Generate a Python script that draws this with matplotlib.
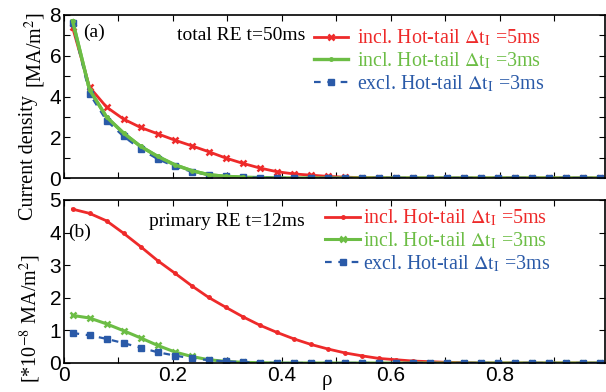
import numpy as np
import matplotlib
matplotlib.use("Agg")
import matplotlib.pyplot as plt
from matplotlib.ticker import MultipleLocator

rho = (np.arange(32) + 0.5) / 32

# panel (a): total RE current density at t=50ms [MA/m^2]
top_red = [7.40, 4.46, 3.48, 2.89, 2.48, 2.17, 1.86, 1.58, 1.29, 0.98, 0.72, 0.49,
           0.31, 0.20, 0.14, 0.08, 0.04, 0.02, 0.01] + [0.0] * 13
top_green = [7.72, 4.33, 2.99, 2.20, 1.55, 1.06, 0.65, 0.36, 0.16, 0.08, 0.04, 0.02,
             0.01] + [0.0] * 19
top_blue = [7.62, 4.13, 2.82, 2.04, 1.42, 0.93, 0.57, 0.31, 0.16, 0.08, 0.03, 0.01] + [0.0] * 20

# panel (b): primary RE current density at t=12ms [1e-8 MA/m^2]
bot_red = [4.72, 4.59, 4.36, 3.98, 3.57, 3.14, 2.76, 2.37, 2.01, 1.71, 1.42, 1.16,
           0.94, 0.74, 0.57, 0.43, 0.31, 0.22, 0.14, 0.10, 0.06, 0.04, 0.02, 0.01] + [0.0] * 8
bot_green = [1.46, 1.38, 1.20, 0.99, 0.77, 0.54, 0.34, 0.20, 0.10, 0.05, 0.02, 0.01] + [0.0] * 20
bot_blue = [0.92, 0.85, 0.74, 0.61, 0.47, 0.33, 0.23, 0.14, 0.09, 0.05, 0.03, 0.01] + [0.0] * 20

labels = [r"incl. Hot-tail $\Delta \mathrm{t_I}$ =5ms",
          r"incl. Hot-tail $\Delta \mathrm{t_I}$ =3ms",
          r"excl. Hot-tail $\Delta \mathrm{t_I}$ =3ms"]

RED = "#ee2a2a"
GREEN = "#6cbd45"
BLUE = "#2a5aa8"

plt.rcParams['mathtext.fontset'] = 'stix'
SANS = "Liberation Sans"
SERIF = "Liberation Serif"

fig = plt.figure(figsize=(6.06, 3.92), dpi=100)
ax1 = fig.add_axes([64/606, 1-178/392, (605-64)/606, (178-15)/392])
ax2 = fig.add_axes([64/606, 1-363/392, (605-64)/606, (363-200)/392])

l1, = ax1.plot(rho, top_red, color=RED, lw=2, marker='x', ms=5, mew=1.8)
l2, = ax1.plot(rho, top_green, color=GREEN, lw=2.4, marker='.', ms=5)
l3, = ax1.plot(rho, top_blue, color=BLUE, lw=1.6, ls=(0, (3, 3)), marker='s', ms=4.2, zorder=2.05)
ax1.plot(rho[:11], top_green[:11], color=GREEN, lw=2.4, marker='.', ms=5, zorder=2.1)

m1, = ax2.plot(rho, bot_red, color=RED, lw=2, marker='.', ms=5)
m2, = ax2.plot(rho, bot_green, color=GREEN, lw=2.2, marker='x', ms=5, mew=1.8)
m3, = ax2.plot(rho, bot_blue, color=BLUE, lw=1.6, ls=(0, (3, 3)), marker='s', ms=4.2)

for ax in (ax1, ax2):
    ax.set_xlim(0, 0.993)
    ax.xaxis.set_major_locator(MultipleLocator(0.2))
    ax.xaxis.set_minor_locator(MultipleLocator(0.1))
    ax.tick_params(which='both', direction='in', top=True, right=True, length=4,
                   width=0.8, labelsize=15, pad=2)
    for s in ax.spines.values():
        s.set_linewidth(1.2)

ax1.set_ylim(0, 8)
ax1.yaxis.set_major_locator(MultipleLocator(2))
ax1.yaxis.set_minor_locator(MultipleLocator(1))
ax1.tick_params(labelbottom=False)

ax2.set_ylim(0, 5)
ax2.yaxis.set_major_locator(MultipleLocator(1))
ax2.set_xticks([0, 0.2, 0.4, 0.6, 0.8])
ax2.set_xticklabels(["0", "0.2", "0.4", "0.6", "0.8"])

for ax in (ax1, ax2):
    for lab in ax.get_xticklabels() + ax.get_yticklabels():
        lab.set_family(SANS)
        lab.set_fontsize(15)

leg1 = ax1.legend([l1, l2, l3], labels, loc='upper left', bbox_to_anchor=(0.448, 0.97),
                  frameon=False, prop={'family': SERIF, 'size': 14.4}, handlelength=1.7,
                  handletextpad=0.45, labelspacing=0.1, borderaxespad=0)
for t, c in zip(leg1.get_texts(), [RED, GREEN, BLUE]):
    t.set_color(c)
leg2 = ax2.legend([m1, m2, m3], labels, loc='upper left', bbox_to_anchor=(0.468, 1.0),
                  frameon=False, prop={'family': SERIF, 'size': 14.4}, handlelength=1.75,
                  handletextpad=0.12, labelspacing=0.1, borderaxespad=0)
for t, c in zip(leg2.get_texts(), [RED, GREEN, BLUE]):
    t.set_color(c)

fig.text(83/606, 1-32/392, "(a)", fontsize=14, family=SERIF, va='center', ha='left')
fig.text(305/606, 1-35/392, "total RE t=50ms", fontsize=14, family=SERIF, va='center', ha='right')
fig.text(68/606, 1-232/392, "(b)", fontsize=14, family=SERIF, va='center', ha='left')
fig.text(305/606, 1-222/392, "primary RE t=12ms", fontsize=14, family=SERIF, va='center', ha='right')

fig.text(28/606, 1-158/392, "Current density", rotation=90, fontsize=14.5, family=SERIF,
         va='center', ha='center')
fig.text(35/606, 1-50/392, "[MA/m$^2$]", rotation=90, fontsize=14.5, family=SERIF,
         va='center', ha='center')
fig.text(30/606, 1-318/392, "[*10$^{-8}$ MA/m$^2$]", rotation=90, fontsize=14.5, family=SERIF,
         va='center', ha='center')
fig.text(327/606, 1-381/392, "ρ", fontsize=15, family=SERIF, va='center', ha='center')

fig.savefig("out.png", dpi=100)
